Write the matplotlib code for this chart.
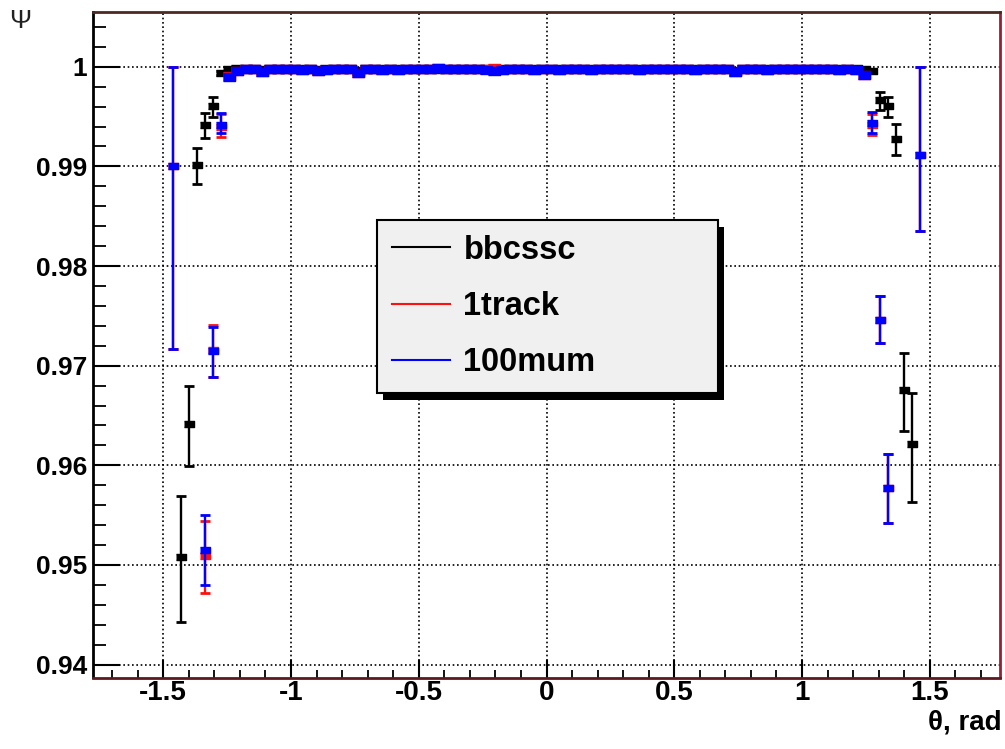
import matplotlib
matplotlib.use("Agg")
import matplotlib.pyplot as plt
from matplotlib.lines import Line2D
from matplotlib.patches import Rectangle
from matplotlib.ticker import MultipleLocator, FixedLocator
from matplotlib.transforms import IdentityTransform

# ---------------- data ----------------
series_labels = ["bbcssc", "1track", "100mum"]
series_colors = ["#000000", "#ff1010", "#0000ff"]

x_ticks = [-1.5, -1.0, -0.5, 0.0, 0.5, 1.0, 1.5]
x_tick_labels = ["-1.5", "-1", "-0.5", "0", "0.5", "1", "1.5"]
y_ticks = [0.94, 0.95, 0.96, 0.97, 0.98, 0.99, 1.00]
y_tick_labels = ["0.94", "0.95", "0.96", "0.97", "0.98", "0.99", "1"]

# plateau bins (theta, rad)
plateau_theta = [
    -1.2409, -1.2095, -1.1781, -1.1467, -1.1152, -1.0838, -1.0524, -1.0210,
    -0.9896, -0.9582, -0.9268, -0.8954, -0.8639, -0.8325, -0.8011, -0.7697,
    -0.7383, -0.7069, -0.6754, -0.6440, -0.6126, -0.5812, -0.5498, -0.5184,
    -0.4869, -0.4555, -0.4241, -0.3927, -0.3613, -0.3299, -0.2985, -0.2670,
    -0.2356, -0.2042, -0.1728, -0.1414, -0.1100, -0.0785, -0.0471, -0.0157,
    0.0157, 0.0471, 0.0785, 0.1100, 0.1414, 0.1728, 0.2042, 0.2356,
    0.2670, 0.2985, 0.3299, 0.3613, 0.3927, 0.4241, 0.4555, 0.4869,
    0.5184, 0.5498, 0.5812, 0.6126, 0.6440, 0.6754, 0.7069, 0.7383,
    0.7697, 0.8011, 0.8325, 0.8639, 0.8954, 0.9268, 0.9582, 0.9896,
    1.0210, 1.0524, 1.0838, 1.1152, 1.1467, 1.1781, 1.2095, 1.2409,
]

bbcssc_plateau = [
    0.9997, 0.9998, 0.9998, 0.9998, 0.9997, 0.9998, 0.9998, 0.9998,
    0.9998, 0.9998, 0.9998, 0.9997, 0.9998, 0.9998, 0.9998, 0.9998,
    0.9996, 0.9998, 0.9998, 0.9998, 0.9998, 0.9998, 0.9998, 0.9998,
    0.9998, 0.9998, 0.9998, 0.9998, 0.9998, 0.9998, 0.9998, 0.9998,
    0.9998, 0.9998, 0.9998, 0.9998, 0.9998, 0.9998, 0.9998, 0.9998,
    0.9998, 0.9998, 0.9998, 0.9998, 0.9998, 0.9998, 0.9998, 0.9998,
    0.9998, 0.9998, 0.9998, 0.9998, 0.9998, 0.9998, 0.9998, 0.9998,
    0.9998, 0.9998, 0.9998, 0.9998, 0.9998, 0.9998, 0.9998, 0.9996,
    0.9998, 0.9998, 0.9998, 0.9998, 0.9998, 0.9998, 0.9998, 0.9998,
    0.9998, 0.9998, 0.9998, 0.9998, 0.9998, 0.9998, 0.9998, 0.9997,
]

onetrack_plateau = [
    0.9991, 0.9996, 0.9998, 0.9998, 0.9995, 0.9998, 0.9998, 0.9998,
    0.9998, 0.9997, 0.9998, 0.9996, 0.9997, 0.9998, 0.9998, 0.9998,
    0.9994, 0.9998, 0.9998, 0.9997, 0.9998, 0.9997, 0.9998, 0.9998,
    0.9998, 0.9998, 0.9999, 0.9998, 0.9998, 0.9998, 0.9998, 0.9998,
    0.9998, 0.9999, 0.9997, 0.9998, 0.9998, 0.9998, 0.9997, 0.9998,
    0.9998, 0.9997, 0.9998, 0.9998, 0.9998, 0.9997, 0.9998, 0.9998,
    0.9998, 0.9998, 0.9998, 0.9997, 0.9998, 0.9998, 0.9998, 0.9998,
    0.9998, 0.9998, 0.9997, 0.9998, 0.9998, 0.9998, 0.9998, 0.9995,
    0.9998, 0.9998, 0.9998, 0.9997, 0.9998, 0.9998, 0.9998, 0.9998,
    0.9998, 0.9998, 0.9998, 0.9998, 0.9997, 0.9998, 0.9997, 0.9992,
]

mum100_plateau = [
    0.9990, 0.9996, 0.9998, 0.9998, 0.9995, 0.9998, 0.9998, 0.9998,
    0.9998, 0.9997, 0.9998, 0.9996, 0.9997, 0.9998, 0.9998, 0.9998,
    0.9994, 0.9998, 0.9998, 0.9997, 0.9998, 0.9997, 0.9998, 0.9998,
    0.9998, 0.9998, 0.9999, 0.9998, 0.9998, 0.9998, 0.9998, 0.9998,
    0.9997, 0.9996, 0.9997, 0.9998, 0.9998, 0.9998, 0.9997, 0.9998,
    0.9998, 0.9997, 0.9998, 0.9998, 0.9998, 0.9997, 0.9998, 0.9998,
    0.9998, 0.9998, 0.9998, 0.9997, 0.9998, 0.9998, 0.9998, 0.9998,
    0.9998, 0.9998, 0.9997, 0.9998, 0.9998, 0.9998, 0.9998, 0.9995,
    0.9998, 0.9998, 0.9998, 0.9997, 0.9998, 0.9998, 0.9998, 0.9998,
    0.9998, 0.9998, 0.9998, 0.9998, 0.9997, 0.9998, 0.9997, 0.9992,
]
plateau_err = 0.0001

# edge bins: theta, value, lower error, upper error
bbcssc_edge_theta = [-1.4294, -1.3980, -1.3666, -1.3352, -1.3038, -1.2723,
                     1.2724, 1.3038, 1.3352, 1.3666, 1.3980, 1.4294]
bbcssc_edge_val = [0.9508, 0.9641, 0.9901, 0.9942, 0.9961, 0.9994,
                   0.9996, 0.9967, 0.9961, 0.99275, 0.9676, 0.9621]
bbcssc_edge_lo = [0.0065, 0.0042, 0.0019, 0.0013, 0.0011, 0.0002,
                  0.0002, 0.0010, 0.0011, 0.0016, 0.0042, 0.0058]
bbcssc_edge_hi = [0.0061, 0.0039, 0.0017, 0.0012, 0.0009, 0.0002,
                  0.0002, 0.0008, 0.0009, 0.0015, 0.0037, 0.0052]

edge_theta = [-1.4608, -1.3352, -1.3038, -1.2723, 1.2724, 1.3038, 1.3352, 1.4608]

onetrack_edge_val = [0.9900, 0.9509, 0.9716, 0.9940, 0.9942, 0.9746, 0.9577, 0.9911]
onetrack_edge_lo = [0.0183, 0.0037, 0.0027, 0.0010, 0.0010, 0.0023, 0.0035, 0.0076]
onetrack_edge_hi = [0.0100, 0.0035, 0.0025, 0.0013, 0.0011, 0.0024, 0.0034, 0.0089]

mum100_edge_val = [0.9900, 0.9515, 0.9715, 0.9942, 0.9944, 0.9746, 0.9577, 0.9911]
mum100_edge_lo = [0.0183, 0.0035, 0.0026, 0.0008, 0.0010, 0.0023, 0.0035, 0.0076]
mum100_edge_hi = [0.0100, 0.0035, 0.0024, 0.0012, 0.0011, 0.0024, 0.0034, 0.0089]

# ---------------- figure ----------------
plt.rcParams['font.family'] = ['Liberation Sans', 'DejaVu Sans']

fig = plt.figure(figsize=(10.05, 7.49), dpi=100)
fig.patch.set_facecolor("white")
ax = fig.add_axes([93 / 1005, 1 - 677.5 / 749, (1000 - 93) / 1005, (677.5 - 12) / 749])

rect_marker = [(-1, -0.65), (1, -0.65), (1, 0.65), (-1, 0.65)]

def draw(theta, val, lo, hi, color, z, ms):
    ax.errorbar(theta, val, yerr=[lo, hi], fmt="none", ecolor=color,
                elinewidth=1.7, capsize=3.6, capthick=2.0, zorder=z)
    ax.plot(theta, val, linestyle="none", marker=rect_marker, markersize=ms,
            color=color, zorder=z + 0.1)

series = [
    (bbcssc_plateau, bbcssc_edge_theta, bbcssc_edge_val, bbcssc_edge_lo, bbcssc_edge_hi),
    (onetrack_plateau, edge_theta, onetrack_edge_val, onetrack_edge_lo, onetrack_edge_hi),
    (mum100_plateau, edge_theta, mum100_edge_val, mum100_edge_lo, mum100_edge_hi),
]
for k, (plat, et, ev, elo, ehi) in enumerate(series):
    z = 3 + k
    draw(plateau_theta, plat, [plateau_err] * len(plat), [plateau_err] * len(plat),
         series_colors[k], z, 8)
    draw(et, ev, elo, ehi, series_colors[k], z, 7.5)

ax.set_xlim(-1.775, 1.775)
ax.set_ylim(0.9387, 1.0055)

ax.xaxis.set_major_locator(FixedLocator(x_ticks))
ax.set_xticklabels(x_tick_labels)
ax.xaxis.set_minor_locator(MultipleLocator(0.1))
ax.yaxis.set_major_locator(FixedLocator(y_ticks))
ax.set_yticklabels(y_tick_labels)
ax.yaxis.set_minor_locator(MultipleLocator(0.002))

ax.tick_params(axis="both", which="both", direction="in", top=False, right=False,
               color="black")
ax.tick_params(axis="y", which="major", length=19.5, width=1.5, pad=4,
               labelsize=19)
ax.tick_params(axis="y", which="minor", length=9.5, width=1.3)
ax.tick_params(axis="x", which="major", length=13, width=1.5, pad=2,
               labelsize=20)
ax.tick_params(axis="x", which="minor", length=6, width=1.3)
for lab in ax.get_xticklabels() + ax.get_yticklabels():
    lab.set_fontweight("bold")

ax.grid(True, which="major", color="black", linestyle=(0, (1, 1.6)),
        linewidth=1.2, zorder=1)
ax.set_axisbelow(True)

ax.spines["left"].set_color("black")
ax.spines["top"].set_color("#4a2a22")
ax.spines["right"].set_color("#9a1f35")
ax.spines["bottom"].set_color("#5a1a20")
for s in ax.spines.values():
    s.set_linewidth(2)

handles = [Line2D([0], [0], color=c, lw=1.5) for c in series_colors]
leg = ax.legend(handles, series_labels, loc="upper left",
                bbox_to_anchor=(0.313, 0.6877, 0.376, 0.0), mode="expand",
                prop={"weight": "bold", "size": 23.5},
                frameon=True, fancybox=False, framealpha=1,
                facecolor="#f0f0f0", edgecolor="black",
                borderpad=0.45, labelspacing=0.78, handlelength=1.8,
                handletextpad=0.4, borderaxespad=0.0)
leg.get_frame().set_linewidth(1.5)
leg.set_zorder(10)

fig.canvas.draw()
bb = leg.get_window_extent()
shadow = Rectangle((bb.x0 + 6, bb.y0 - 7), bb.width, bb.height,
                   transform=IdentityTransform(), facecolor="black",
                   edgecolor="none", zorder=9.5, clip_on=False)
ax.add_patch(shadow)

fig.text(9 / 1005, 1 - 28 / 749, "Ψ", fontsize=19, va="baseline", ha="left",
         color="#222222")
fig.text(1002 / 1005, 1 - 729 / 749, "θ, rad", fontsize=20, fontweight="bold",
         va="baseline", ha="right")

fig.savefig("out.png", dpi=100)
